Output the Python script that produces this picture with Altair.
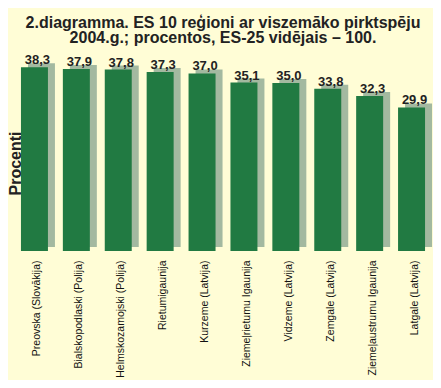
import altair as alt
import pandas as pd

regions = [
    "Preovska (Slovākija)",
    "Bialskopodlaski (Polija)",
    "Helmskozamojski (Polija)",
    "Rietumigaunija",
    "Kurzeme (Latvija)",
    "Ziemeļrietumu Igaunija",
    "Vidzeme (Latvija)",
    "Zemgale (Latvija)",
    "Ziemeļaustrumu Igaunija",
    "Latgale (Latvija)",
]
values = [38.3, 37.9, 37.8, 37.3, 37.0, 35.1, 35.0, 33.8, 32.3, 29.9]
title_lines = [
    "2.diagramma. ES 10 reģioni ar viszemāko pirktspēju",
    "2004.g.; procentos, ES-25 vidējais – 100.",
]
y_title = "Procenti"

df = pd.DataFrame({
    "region": regions,
    "value": values,
    "label": [f"{v:.1f}".replace(".", ",") for v in values],
})

BG = "#FFFDD6"
GREEN = "#217A42"
SHADOW = "#A3B9A0"
INK = "#222222"
FONT = "Liberation Sans, Arial, sans-serif"

x_enc = alt.X(
    "region:N",
    sort=regions,
    scale=alt.Scale(paddingInner=0.356, paddingOuter=0.178),
    axis=alt.Axis(
        title=None, labelAngle=-90, labelAlign="right", labelBaseline="middle",
        ticks=False, domain=False, labelPadding=9, labelOffset=3,
        labelFont=FONT, labelFontSize=10.5, labelColor="#111111",
        labelLimit=200,
    ),
)
y_enc = alt.Y(
    "value:Q",
    scale=alt.Scale(domain=[0, 40], nice=False, zero=True),
    axis=alt.Axis(
        title=y_title, labels=False, ticks=False, domain=False, grid=False,
        titleFont=FONT, titleFontSize=16, titleFontWeight="bold", titleColor=INK,
        titleX=7, titleY=104, titleAngle=-90, titleBaseline="alphabetic",
        titleAlign="center",
    ),
)

base = alt.Chart(df)

shadow = base.mark_bar(color=SHADOW, xOffset=7, yOffset=-4, y2Offset=0).encode(x=x_enc, y=y_enc)
bars = base.mark_bar(color=GREEN).encode(x=x_enc, y=y_enc)
labels = base.mark_text(
    font=FONT, fontSize=13, fontWeight="bold", color=INK,
    baseline="alphabetic", dy=-3, dx=3,
).encode(x=x_enc, y=y_enc, text="label:N")

chart = (
    alt.layer(shadow, bars, labels)
    .properties(
        width=419,
        height=192,
        autosize=alt.AutoSizeParams(type="none"),
        padding={"left": 5.5, "top": 51, "right": 0.5, "bottom": 129},
        background=BG,
        title=alt.TitleParams(
            text=title_lines, font=FONT, fontSize=16, fontWeight="bold",
            color=INK, lineHeight=15.5, anchor="middle", offset=8,
        ),
    )
    .configure_view(stroke=None)
)

chart.save("out.html", embed_options={"renderer": "svg", "actions": False})
